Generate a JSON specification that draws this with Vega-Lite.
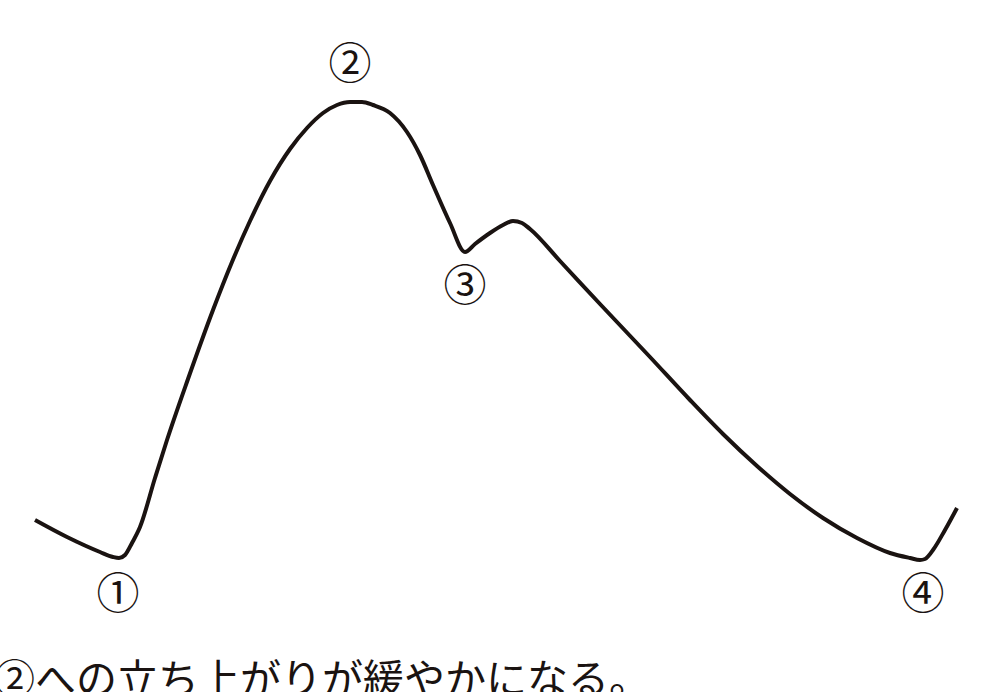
{
  "$schema": "https://vega.github.io/schema/vega-lite/v6.json",
  "width": 991,
  "height": 692,
  "autosize": "none",
  "padding": 0,
  "background": "white",
  "config": {"view": {"stroke": null}},
  "layer": [
    {
      "data": {
        "values": [
          {"t": 35, "v": 172}, {"t": 67, "v": 155}, {"t": 100, "v": 140}, {"t": 113, "v": 135},
          {"t": 119, "v": 134}, {"t": 125, "v": 137}, {"t": 132, "v": 149}, {"t": 140, "v": 165},
          {"t": 155, "v": 214}, {"t": 167, "v": 252}, {"t": 188, "v": 313}, {"t": 213, "v": 382},
          {"t": 232, "v": 430}, {"t": 250, "v": 471}, {"t": 270, "v": 511}, {"t": 290, "v": 543},
          {"t": 307, "v": 564}, {"t": 323, "v": 579}, {"t": 337, "v": 587}, {"t": 350, "v": 590},
          {"t": 362, "v": 590}, {"t": 373, "v": 587}, {"t": 390, "v": 579}, {"t": 407, "v": 560},
          {"t": 420, "v": 537}, {"t": 433, "v": 507}, {"t": 450, "v": 469}, {"t": 465, "v": 440},
          {"t": 475, "v": 448}, {"t": 490, "v": 459}, {"t": 503, "v": 467}, {"t": 513, "v": 471},
          {"t": 522, "v": 469}, {"t": 530, "v": 463}, {"t": 560, "v": 431}, {"t": 600, "v": 388},
          {"t": 650, "v": 335}, {"t": 690, "v": 292}, {"t": 723, "v": 258}, {"t": 757, "v": 226},
          {"t": 790, "v": 198}, {"t": 823, "v": 174}, {"t": 857, "v": 154}, {"t": 890, "v": 139},
          {"t": 910, "v": 134}, {"t": 920, "v": 132}, {"t": 925, "v": 133}, {"t": 933, "v": 142},
          {"t": 945, "v": 162}, {"t": 957, "v": 184}
        ]
      },
      "mark": {"type": "line", "interpolate": "monotone", "color": "#1a1311", "strokeWidth": 4, "strokeJoin": "round", "clip": false},
      "encoding": {
        "x": {"field": "t", "type": "quantitative", "scale": {"domain": [0, 991], "nice": false, "zero": false}, "axis": null},
        "y": {"field": "v", "type": "quantitative", "scale": {"domain": [0, 692], "nice": false, "zero": false}, "axis": null}
      }
    },
    {
      "data": {
        "values": [
          {"t": 118, "v": 96, "label": "①"},
          {"t": 350, "v": 626, "label": "②"},
          {"t": 465, "v": 404, "label": "③"},
          {"t": 923, "v": 96, "label": "④"}
        ]
      },
      "mark": {"type": "text", "font": "Noto Sans CJK JP", "fontSize": 43, "baseline": "middle", "align": "center", "color": "#1a1311"},
      "encoding": {
        "x": {"field": "t", "type": "quantitative"},
        "y": {"field": "v", "type": "quantitative"},
        "text": {"field": "label"}
      }
    },
    {
      "data": {"values": [{"t": -6, "v": -2, "caption": "②への立ち上がりが緩やかになる。"}]},
      "mark": {"type": "text", "font": "Noto Sans CJK JP", "fontSize": 41, "baseline": "alphabetic", "align": "left", "color": "#1a1311"},
      "encoding": {
        "x": {"field": "t", "type": "quantitative"},
        "y": {"field": "v", "type": "quantitative"},
        "text": {"field": "caption"}
      }
    }
  ]
}
